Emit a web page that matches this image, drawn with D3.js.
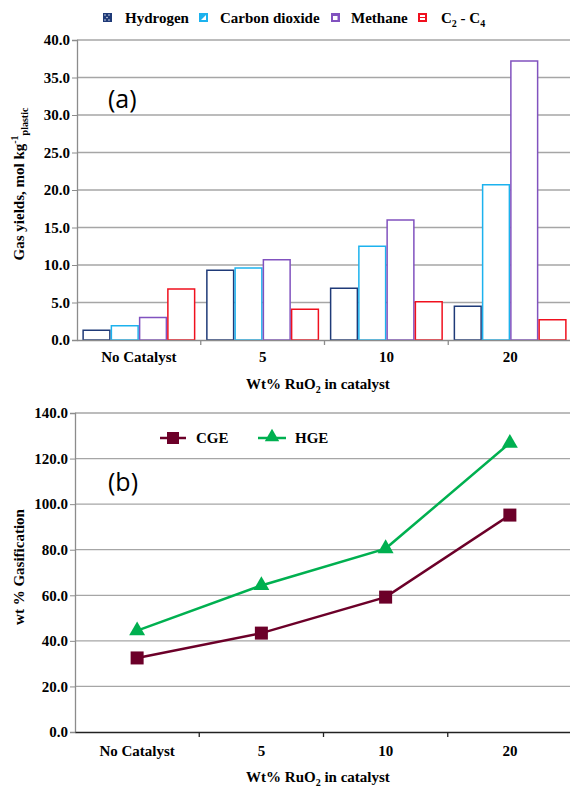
<!DOCTYPE html>
<html><head><meta charset="utf-8">
<script src="https://cdn.jsdelivr.net/npm/d3@7"></script>
<style>
body{margin:0;background:#fff;}
text{font-family:"Liberation Serif","Times New Roman",serif;font-weight:bold;}
</style></head>
<body>
<svg id="c" width="570" height="794"></svg>
<script>
// ---- data ----
const categories = ["No Catalyst", "5", "10", "20"];
const gasSeries = ["Hydrogen", "Carbon dioxide", "Methane", "C2 - C4"];
const hydrogen = [1.3, 9.3, 6.9, 4.5];
const carbonDioxide = [1.9, 9.6, 12.5, 20.7];
const methane = [3.0, 10.7, 16.0, 37.2];
const c2c4 = [6.8, 4.1, 5.1, 2.7];
const cge = [32.5, 43.4, 59.2, 95.2];
const hge = [44.5, 64.3, 80.5, 126.8];
const ticksA = [0, 5, 10, 15, 20, 25, 30, 35, 40];
const ticksB = [0, 20, 40, 60, 80, 100, 120, 140];

const gasValues = [hydrogen, carbonDioxide, methane, c2c4];
const gasColors = ["#1f3a78", "#1cb2ee", "#8152bf", "#f0101e"];
const FS = 15;

const svg = d3.select("#c");

// ======== Chart (a) ========
const A = {l:77, r:572, t:40, b:340};
const xA = d3.scaleBand().domain(categories).range([A.l, A.r]).paddingInner(0).paddingOuter(0);
const x1A = d3.scaleBand().domain(gasSeries).range([0, xA.bandwidth()]).paddingOuter(0.19).paddingInner(0);
const yA = d3.scaleLinear().domain([0, 40]).range([A.b, A.t]);

const gA = svg.append("g");
// gridlines
gA.append("g").selectAll("line").data(ticksA.filter(d=>d>0)).join("line")
  .attr("x1", A.l).attr("x2", A.r).attr("y1", d=>yA(d)).attr("y2", d=>yA(d))
  .attr("stroke", "#a6a6a6").attr("stroke-width", 1.3);
// y axis
const yAxA = gA.append("g").attr("transform", `translate(${A.l},0)`)
  .call(d3.axisLeft(yA).tickValues(ticksA).tickFormat(d3.format(".1f")).tickSize(5));
yAxA.select(".domain").attr("stroke", "#8c8c8c").attr("stroke-width", 1.3);
yAxA.selectAll(".tick line").attr("stroke", "#8c8c8c");
yAxA.selectAll(".tick text").attr("font-size", FS).attr("fill", "#000").attr("x", -7)
  .style("font-family", "Liberation Serif").style("font-weight", "bold");

// bars
gasSeries.forEach((s, si) => {
  gA.append("g").selectAll("rect").data(gasValues[si]).join("rect")
    .attr("x", (d, i) => xA(categories[i]) + x1A(s) + 0.75)
    .attr("width", x1A.bandwidth() - 1.5)
    .attr("y", d => yA(d))
    .attr("height", d => yA(0) - yA(d))
    .attr("fill", "#fff").attr("stroke", gasColors[si]).attr("stroke-width", 1.5);
});

// x axis
const xAxA = gA.append("g").attr("transform", `translate(0,${A.b})`)
  .call(d3.axisBottom(xA).tickSize(0).tickPadding(11));
xAxA.select(".domain").attr("stroke", "#8c8c8c").attr("stroke-width", 1.3);
xAxA.selectAll(".tick text").attr("font-size", FS).attr("fill", "#000")
  .style("font-family", "Liberation Serif").style("font-weight", "bold");
// category boundary ticks
gA.append("g").selectAll("line").data(categories.slice(1)).join("line")
  .attr("x1", d=>xA(d)).attr("x2", d=>xA(d)).attr("y1", A.b).attr("y2", A.b+5)
  .attr("stroke", "#8c8c8c").attr("stroke-width", 1.3);

// axis titles
const tA = gA.append("text").attr("x", 318).attr("y", 389).attr("text-anchor", "middle").attr("font-size", FS);
tA.append("tspan").text("Wt% RuO");
tA.append("tspan").text("2").attr("font-size", 10).attr("dy", 4);
tA.append("tspan").text(" in catalyst").attr("dy", -4);

const yTA = gA.append("text").attr("transform", "translate(24,184) rotate(-90)").attr("text-anchor", "middle").attr("font-size", FS);
yTA.append("tspan").text("Gas yields, mol kg");
yTA.append("tspan").text("-1").attr("font-size", 10).attr("dy", -6);
yTA.append("tspan").text("plastic").attr("font-size", 10).attr("dy", 10);

gA.append("text").text("(a)").attr("x", 108).attr("y", 108).attr("font-size", 25)
  .style("font-family", "Open Sans, Liberation Sans, sans-serif").style("font-weight", "normal");

// legend (a)
const legA = [{x:103, tx:125}, {x:199, tx:220}, {x:331, tx:351}, {x:418, tx:441}];
legA.forEach((p, i) => {
  const g = gA.append("g");
  g.append("rect").attr("x", p.x).attr("y", 13).attr("width", 9).attr("height", 9).attr("fill", gasColors[i]);
  if (i === 0) {
    [[2,2],[6,2],[4,4.5],[2,7],[6,7]].forEach(c => g.append("rect").attr("x", p.x+c[0]-0.6).attr("y", 13+c[1]-0.6).attr("width", 1.2).attr("height", 1.2).attr("fill", "#fff"));
  } else if (i === 1) {
    g.append("path").attr("d", `M${p.x+7},${13+2} L${p.x+7},${13+7} L${p.x+2},${13+7} Z`).attr("fill", "#fff");
  } else if (i === 2) {
    g.append("rect").attr("x", p.x+2).attr("y", 13+3).attr("width", 4.5).attr("height", 4).attr("fill", "#fff");
  } else {
    g.append("rect").attr("x", p.x+2).attr("y", 13+2).attr("width", 5).attr("height", 2).attr("fill", "#fff");
    g.append("rect").attr("x", p.x+2).attr("y", 13+5).attr("width", 5).attr("height", 2).attr("fill", "#fff");
  }
  const t = g.append("text").attr("x", p.tx).attr("y", 23).attr("font-size", FS);
  if (i === 3) {
    t.append("tspan").text("C");
    t.append("tspan").text("2").attr("font-size", 10).attr("dy", 4);
    t.append("tspan").text(" - C").attr("dy", -4);
    t.append("tspan").text("4").attr("font-size", 10).attr("dy", 4);
  } else {
    t.text(gasSeries[i]);
  }
});

// ======== Chart (b) ========
const B = {l:75, r:572, t:413, b:732};
const xB = d3.scaleBand().domain(categories).range([B.l, B.r]);
const yB = d3.scaleLinear().domain([0, 140]).range([B.b, B.t]);
const gB = svg.append("g");

gB.append("g").selectAll("line").data(ticksB.filter(d=>d>0)).join("line")
  .attr("x1", B.l).attr("x2", B.r).attr("y1", d=>yB(d)).attr("y2", d=>yB(d))
  .attr("stroke", "#a6a6a6").attr("stroke-width", 1.3);
const yAxB = gB.append("g").attr("transform", `translate(${B.l},0)`)
  .call(d3.axisLeft(yB).tickValues(ticksB).tickFormat(d3.format(".1f")).tickSize(5));
yAxB.select(".domain").attr("stroke", "#8c8c8c").attr("stroke-width", 1.3);
yAxB.selectAll(".tick line").attr("stroke", "#8c8c8c");
yAxB.selectAll(".tick text").attr("font-size", FS).attr("fill", "#000").attr("x", -7)
  .style("font-family", "Liberation Serif").style("font-weight", "bold");

const xAxB = gB.append("g").attr("transform", `translate(0,${B.b})`)
  .call(d3.axisBottom(xB).tickSize(0).tickPadding(13));
xAxB.select(".domain").attr("stroke", "#222").attr("stroke-width", 1.5);
xAxB.selectAll(".tick text").attr("font-size", FS).attr("fill", "#000")
  .style("font-family", "Liberation Serif").style("font-weight", "bold");
gB.append("g").selectAll("line").data(categories.slice(1)).join("line")
  .attr("x1", d=>xB(d)).attr("x2", d=>xB(d)).attr("y1", B.b).attr("y2", B.b+5)
  .attr("stroke", "#222").attr("stroke-width", 1.3);

const cx = d => xB(d) + xB.bandwidth()/2;
const line = d3.line().x((d,i)=>cx(categories[i])).y(d=>yB(d));
const cgeColor = "#6c0029", hgeColor = "#00b050";

gB.append("path").datum(hge).attr("d", line).attr("fill", "none").attr("stroke", hgeColor).attr("stroke-width", 2.5);
gB.append("path").datum(cge).attr("d", line).attr("fill", "none").attr("stroke", cgeColor).attr("stroke-width", 2.5);

const tri = d3.symbol().type(d3.symbolTriangle).size(110);
gB.append("g").selectAll("path").data(hge).join("path")
  .attr("d", tri).attr("transform", (d,i)=>`translate(${cx(categories[i])},${yB(d)})`).attr("fill", hgeColor);
gB.append("g").selectAll("rect").data(cge).join("rect")
  .attr("x", (d,i)=>cx(categories[i])-6.5).attr("y", d=>yB(d)-6.5).attr("width", 13).attr("height", 13).attr("fill", cgeColor);

// legend (b)
gB.append("line").attr("x1", 160).attr("x2", 186).attr("y1", 438).attr("y2", 438).attr("stroke", cgeColor).attr("stroke-width", 2.5);
gB.append("rect").attr("x", 167).attr("y", 432).attr("width", 12).attr("height", 12).attr("fill", cgeColor);
gB.append("text").text("CGE").attr("x", 196).attr("y", 443).attr("font-size", FS);
gB.append("line").attr("x1", 258).attr("x2", 286).attr("y1", 438).attr("y2", 438).attr("stroke", hgeColor).attr("stroke-width", 2.5);
gB.append("path").attr("d", d3.symbol().type(d3.symbolTriangle).size(90)).attr("transform", "translate(272,437)").attr("fill", hgeColor);
gB.append("text").text("HGE").attr("x", 295).attr("y", 443).attr("font-size", FS);

gB.append("text").text("(b)").attr("x", 108).attr("y", 491).attr("font-size", 25)
  .style("font-family", "Open Sans, Liberation Sans, sans-serif").style("font-weight", "normal");

const tB = gB.append("text").attr("x", 318).attr("y", 782).attr("text-anchor", "middle").attr("font-size", FS);
tB.append("tspan").text("Wt% RuO");
tB.append("tspan").text("2").attr("font-size", 10).attr("dy", 4);
tB.append("tspan").text(" in catalyst").attr("dy", -4);

gB.append("text").attr("transform", "translate(24,567) rotate(-90)").attr("text-anchor", "middle").attr("font-size", FS)
  .text("wt %  Gasification");
</script>
</body></html>
